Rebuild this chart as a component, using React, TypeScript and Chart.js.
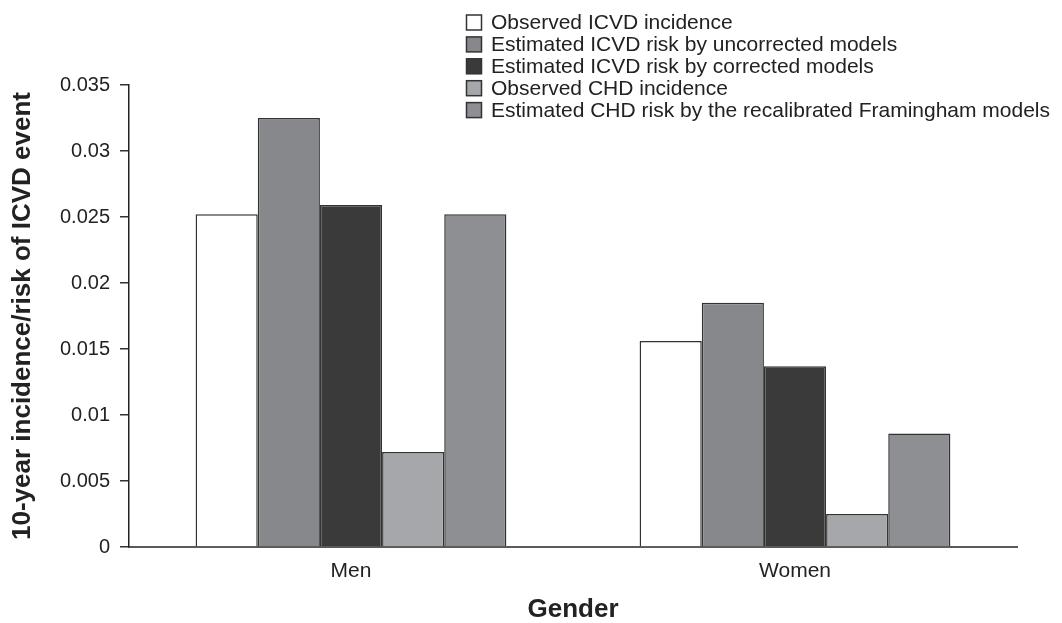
import React, { useEffect, useRef } from "react";
import { Chart, registerables } from "chart.js";

Chart.register(...registerables);

const categories = ["Men", "Women"];
const observedICVD = [0.0252, 0.0156];
const uncorrectedICVD = [0.0325, 0.0185];
const correctedICVD = [0.0259, 0.0137];
const observedCHD = [0.0072, 0.0025];
const framinghamCHD = [0.0252, 0.0086];

const seriesLabels = [
  "Observed ICVD incidence",
  "Estimated ICVD risk by uncorrected models",
  "Estimated ICVD risk by corrected models",
  "Observed CHD incidence",
  "Estimated CHD risk by the recalibrated Framingham models",
];
const seriesColors = ["#ffffff", "#87888c", "#3a3a3a", "#a6a7aa", "#8e8f92"];
const yTickValues = [0, 0.005, 0.01, 0.015, 0.02, 0.025, 0.03, 0.035];

const FONT = "'Liberation Sans', Arial, Helvetica, sans-serif";

const legendPlugin = {
  id: "customLegend",
  afterDraw(chart: any) {
    const ctx = chart.ctx;
    ctx.save();
    ctx.font = `21px ${FONT}`;
    ctx.textBaseline = "middle";
    ctx.textAlign = "left";
    seriesLabels.forEach((label, i) => {
      const cy = 22.5 + i * 21.9;
      const bx = 466.5;
      const size = 15;
      ctx.fillStyle = seriesColors[i];
      ctx.fillRect(bx, cy - size / 2, size, size);
      ctx.lineWidth = 1.5;
      ctx.strokeStyle = "#333333";
      ctx.strokeRect(bx, cy - size / 2, size, size);
      ctx.fillStyle = "#222222";
      ctx.fillText(label, 491, cy + 1);
    });
    ctx.restore();
  },
};

export default function App() {
  const ref = useRef<HTMLCanvasElement | null>(null);
  useEffect(() => {
    if (!ref.current) return;
    const values = [observedICVD, uncorrectedICVD, correctedICVD, observedCHD, framinghamCHD];
    const chart = new Chart(ref.current, {
      type: "bar",
      data: {
        labels: categories,
        datasets: values.map((d, i) => ({
          label: seriesLabels[i],
          data: d,
          backgroundColor: seriesColors[i],
          borderColor: "#333333",
          borderWidth: 1.5,
          categoryPercentage: 0.7,
          barPercentage: 1.0,
        })),
      },
      options: {
        animation: false,
        responsive: true,
        maintainAspectRatio: false,
        layout: { padding: { left: 0, right: 45, top: 85, bottom: 0 } },
        plugins: { legend: { display: false }, tooltip: { enabled: false } },
        scales: {
          x: {
            grid: { display: false, drawTicks: false },
            border: { display: true, color: "#5a5a5a", width: 2 },
            ticks: { color: "#222", font: { family: FONT, size: 21 }, padding: 12 },
            title: {
              display: true,
              text: "Gender",
              color: "#222",
              font: { family: FONT, size: 26, weight: "bold", lineHeight: 1 },
              padding: 0,
            },
            afterFit: (s: any) => { s.height = 76; },
          },
          y: {
            min: 0,
            max: 0.035,
            afterBuildTicks: (s: any) => { s.ticks = yTickValues.map((v) => ({ value: v })); },
            grid: { drawOnChartArea: false, drawTicks: true, tickLength: 9, color: "#333", lineWidth: 1.5 },
            border: { display: true, color: "#222", width: 1.5 },
            ticks: {
              color: "#222",
              font: { family: FONT, size: 20 },
              padding: 10,
              callback: (v: any) => String(Number(Number(v).toFixed(3))),
            },
            title: {
              display: true,
              text: "10-year incidence/risk of ICVD event",
              color: "#222",
              font: { family: FONT, size: 26, weight: "bold", lineHeight: 1.2 },
              padding: { top: 7, bottom: 0 },
            },
            afterFit: (s: any) => { s.width = 129; },
          },
        },
      },
      plugins: [legendPlugin],
    });
    return () => chart.destroy();
  }, []);
  return (
    <div style={{ position: "fixed", left: 0, top: 0, width: 1062, height: 623, background: "#fff" }}>
      <canvas ref={ref} />
    </div>
  );
}
